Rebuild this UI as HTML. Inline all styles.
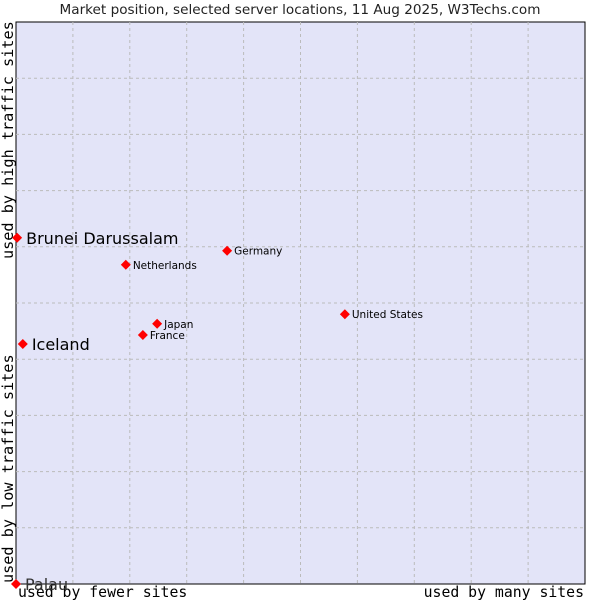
<!DOCTYPE html>
<html><head><meta charset="utf-8"><style>
body{margin:0;background:#fff;}
svg text{font-family:"DejaVu Sans","Liberation Sans",sans-serif;}
.mono{font-family:"DejaVu Sans Mono","Liberation Mono",monospace;}
</style></head><body>
<svg id="chart" width="600" height="600">
<text x="300" y="14" text-anchor="middle" font-size="13.6" fill="#222">Market position, selected server locations, 11 Aug 2025, W3Techs.com</text>
<rect x="16" y="22" width="569" height="562" fill="#e3e4f8" stroke="#000" stroke-width="1"/>
<g id="grid"></g>
<text class="mono" x="18" y="597" font-size="14.8" fill="#000">used by fewer sites</text>
<text class="mono" x="584" y="597" font-size="14.8" text-anchor="end" fill="#000">used by many sites</text>
<text class="mono" transform="translate(13,583) rotate(-90)" font-size="15.2" fill="#000">used by low traffic sites</text>
<text class="mono" transform="translate(13,259) rotate(-90)" font-size="15.2" fill="#000">used by high traffic sites</text>
<g id="points"></g>
</svg>
<script>
const names=["Brunei Darussalam","Iceland","Palau","Netherlands","Germany","Japan","France","United States"];
const xVals=[0.2,1.2,0,19.3,37.1,24.8,22.3,57.8];
const yVals=[61.6,42.7,0,56.8,59.3,46.3,44.3,48.0];
const big=[true,true,true,false,false,false,false,false];
const L=16,R=585,T=22,B=584;
const sx=v=>L+v/100*(R-L), sy=v=>B-v/100*(B-T);
const ns="http://www.w3.org/2000/svg";
const g=document.getElementById('grid');
for(let i=1;i<10;i++){
  const v=document.createElementNS(ns,'line');
  
  
  v.setAttribute('x1',sx(i*10));v.setAttribute('x2',sx(i*10));v.setAttribute('y1',T);v.setAttribute('y2',B);
  v.setAttribute('stroke','#bbb');v.setAttribute('stroke-dasharray','3,3');g.appendChild(v);
  const h=document.createElementNS(ns,'line');
  
  
  h.setAttribute('y1',sy(i*10));h.setAttribute('y2',sy(i*10));h.setAttribute('x1',L);h.setAttribute('x2',R);
  h.setAttribute('stroke','#bbb');h.setAttribute('stroke-dasharray','3,3');g.appendChild(h);
}
const p=document.getElementById('points');
names.forEach((n,i)=>{
  const x=sx(xVals[i]),y=sy(yVals[i]);
  const m=document.createElementNS(ns,'path');
  
  
  const s=5;
  m.setAttribute('d',`M${x},${y-s}L${x+s},${y}L${x},${y+s}L${x-s},${y}Z`);
  m.setAttribute('fill','#f00');p.appendChild(m);
  const t=document.createElementNS(ns,'text');
  
  
  t.setAttribute('x',x+(big[i]?9:7));t.setAttribute('y',y+(big[i]?6:4));
  t.setAttribute('font-size',big[i]?16:10.5);t.setAttribute('fill',big[i]&&yVals[i]<5?'#333':'#000');
  t.textContent=n;p.appendChild(t);
});
</script>
</body></html>
